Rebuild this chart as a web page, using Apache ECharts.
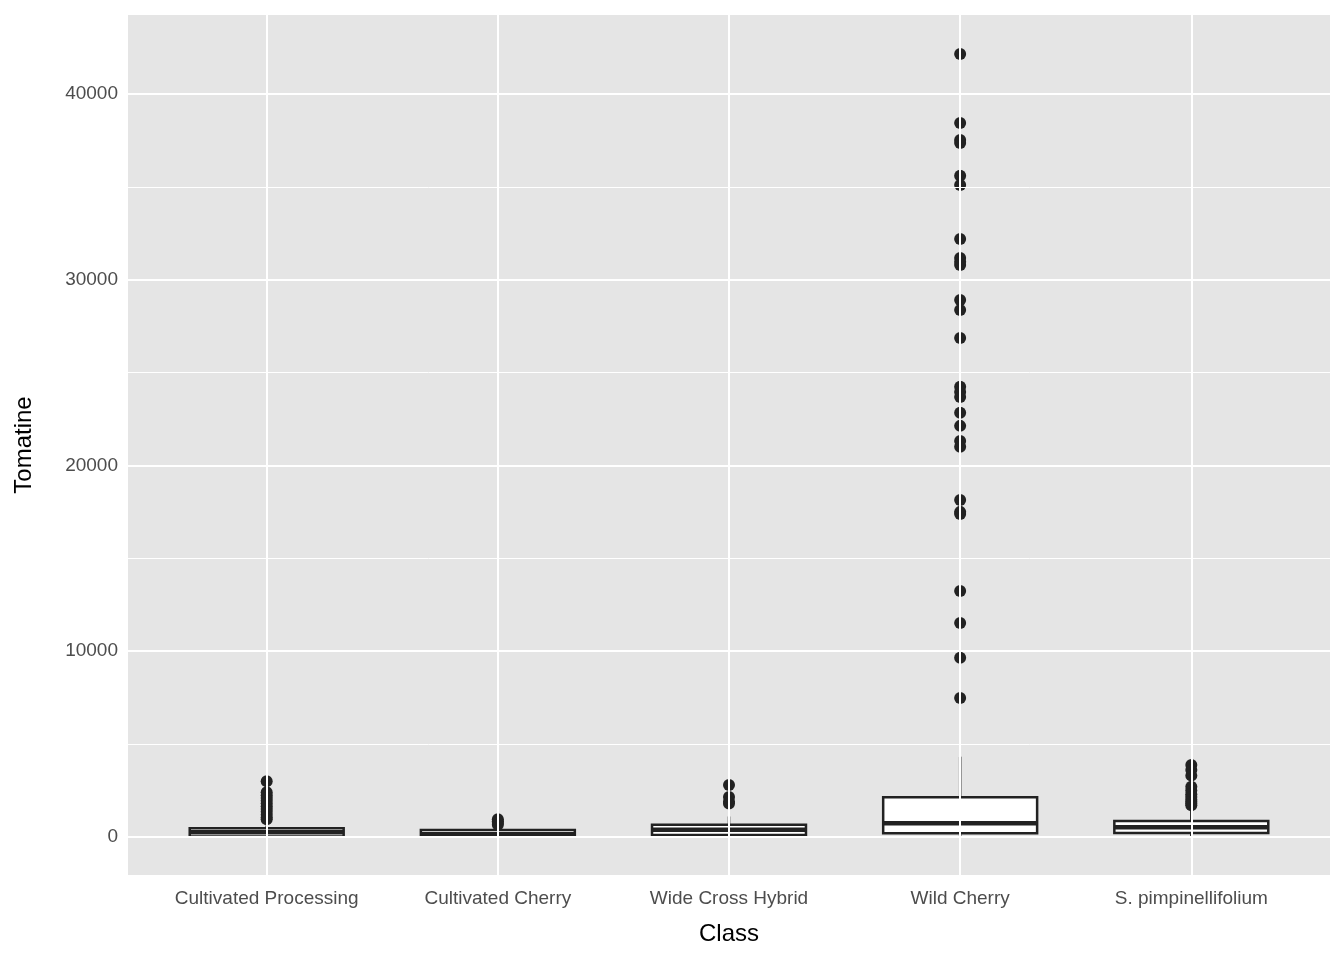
<!DOCTYPE html>
<html><head><meta charset="utf-8">
<script src="https://cdn.jsdelivr.net/npm/echarts@6/dist/echarts.min.js"></script>
<style>html,body{margin:0;background:#fff}#c{width:1344px;height:960px}</style>
</head><body><div id="c"></div>
<script>
const categories = ['Cultivated Processing', 'Cultivated Cherry', 'Wide Cross Hybrid', 'Wild Cherry', 'S. pimpinellifolium'];
// [lower whisker, Q1, median, Q3, upper whisker]
const boxStats = [
  [0, 20, 250, 470, 620],
  [0, 10, 150, 370, 560],
  [0, 110, 380, 650, 1100],
  [0, 200, 740, 2140, 4320],
  [0, 210, 520, 860, 1450]
];
const outliers = [
  [3000, 2400, 2250, 2100, 1950, 1800, 1650, 1500, 1350, 1200, 1050, 950],
  [950, 850, 750, 650],
  [2800, 2150, 1900, 1800],
  [42150, 38440, 37520, 37360, 35590, 35100, 32190, 31170, 30960, 30790, 28910, 28370, 26860,
   24230, 23960, 23690, 22830, 22130, 21320, 21000, 18140, 17500, 17390, 13240, 11520, 9640, 7480],
  [3870, 3600, 3300, 2700, 2500, 2300, 2150, 2000, 1900, 1800, 1700]
];
const majorTicks = [0, 10000, 20000, 30000, 40000];
const minorTicks = [5000, 15000, 25000, 35000];
const catPos = categories.map((c, i) => i);

const chart = echarts.init(document.getElementById('c'));
const scatterData = [];
outliers.forEach((arr, i) => arr.forEach(v => scatterData.push([i, v])));
const boxData = boxStats.map((s, i) => [i, ...s]);
const white = {color: '#fff', type: 'solid'};
const font = 'Liberation Sans';
chart.setOption({
  animation: false,
  backgroundColor: '#fff',
  grid: {left: 128, right: 14, top: 15, bottom: 85, backgroundColor: '#e5e5e5', show: true, borderWidth: 0},
  xAxis: {
    type: 'value', min: -0.6, max: 4.6,
    axisLine: {show: false},
    axisTick: {customValues: catPos, length: 5, lineStyle: {color: '#333'}},
    axisLabel: {customValues: catPos, formatter: v => categories[v], color: '#4d4d4d', fontSize: 19, margin: 14, fontFamily: font},
    splitLine: {show: false},
    name: 'Class', nameLocation: 'middle', nameGap: 47,
    nameTextStyle: {color: '#000', fontSize: 24, fontFamily: font}
  },
  yAxis: {
    type: 'value', min: -2050, max: 44250,
    axisLine: {show: false},
    axisTick: {show: true, length: 5, customValues: majorTicks, lineStyle: {color: '#333'}},
    axisLabel: {customValues: majorTicks, formatter: v => String(v), color: '#4d4d4d', fontSize: 19, margin: 10, fontFamily: font},
    splitLine: {show: false},
    name: 'Tomatine', nameLocation: 'middle', nameGap: 92, nameRotate: 90,
    nameTextStyle: {color: '#000', fontSize: 24, fontFamily: font}
  },
  series: [
    {
      type: 'line', data: [], silent: true,
      markLine: {
        silent: true, symbol: 'none', label: {show: false}, animation: false,
        data: [
          ...minorTicks.map(v => ({yAxis: v, lineStyle: {...white, width: 1}})),
          ...majorTicks.map(v => ({yAxis: v, lineStyle: {...white, width: 2}})),
          ...catPos.map(c => ({xAxis: c, lineStyle: {...white, width: 2}}))
        ]
      }
    },
    {
      type: 'custom', data: boxData,
      renderItem: (params, api) => {
        const x = api.value(0);
        const lo = api.coord([x - 0.333, api.value(2)]);
        const hi = api.coord([x + 0.333, api.value(4)]);
        const med = api.coord([x, api.value(3)]);
        const wLo = api.coord([x, api.value(1)]);
        const wHi = api.coord([x, api.value(5)]);
        const st = {stroke: '#222', lineWidth: 2.5, fill: null};
        return {type: 'group', children: [
          {type: 'line', shape: {x1: wHi[0], y1: wHi[1], x2: wHi[0], y2: hi[1]}, style: st},
          {type: 'line', shape: {x1: wLo[0], y1: wLo[1], x2: wLo[0], y2: lo[1]}, style: st},
          {type: 'rect', shape: {x: lo[0], y: hi[1], width: hi[0] - lo[0], height: lo[1] - hi[1]},
            style: {stroke: '#222', lineWidth: 2.5, fill: '#fff'}},
          {type: 'line', shape: {x1: lo[0], y1: med[1], x2: hi[0], y2: med[1]}, style: {stroke: '#222', lineWidth: 4.5}}
        ]};
      }
    },
    {
      type: 'scatter', data: scatterData, symbolSize: 12,
      itemStyle: {color: '#222', opacity: 1}
    }
  ]
});
</script></body></html>
